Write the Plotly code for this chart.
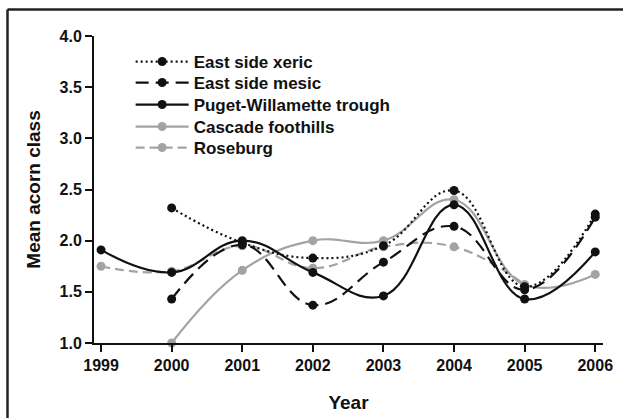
import plotly.graph_objects as go

years = [1999, 2000, 2001, 2002, 2003, 2004, 2005, 2006]

east_side_xeric = [None, 2.32, 1.98, 1.83, 1.95, 2.49, 1.55, 2.26]
east_side_mesic = [None, 1.43, 1.96, 1.37, 1.79, 2.14, 1.52, 2.23]
puget_willamette = [1.91, 1.69, 2.00, 1.69, 1.46, 2.35, 1.43, 1.89]
cascade_foothills = [None, 1.00, 1.71, 2.00, 2.00, 2.40, 1.57, 1.67]
roseburg = [1.75, 1.70, 1.95, 1.73, 1.94, 1.94, 1.57, None]

y_ticks = [1.0, 1.5, 2.0, 2.5, 3.0, 3.5, 4.0]

BLACK = "#111111"
GRAY = "#a3a3a3"
FONT = "Liberation Sans, Arial, sans-serif"

# plot area in pixels: left 94, right 603, top 36, bottom 343
PLOT_L, PLOT_W = 94, 509
PLOT_TOP, PLOT_H = 36, 307

series = [
    # name, values, colour, dash, legend id, legend row centre (px from top)
    ("Roseburg", roseburg, GRAY, "9px,5px", "legend5", 148),
    ("Cascade foothills", cascade_foothills, GRAY, "solid", "legend4", 127),
    ("Puget-Willamette trough", puget_willamette, BLACK, "solid", "legend3", 105),
    ("East side mesic", east_side_mesic, BLACK, "13px,7px", "legend2", 83),
    ("East side xeric", east_side_xeric, BLACK, "2px,3px", "legend", 62),
]

fig = go.Figure()
legends = {}
for name, vals, col, dash, leg, row in series:
    xs = [x for x, v in zip(years, vals) if v is not None]
    ys = [v for v in vals if v is not None]
    fig.add_trace(go.Scatter(
        x=xs, y=ys, name=name, mode="lines+markers",
        line=dict(color=col, width=2.2, dash=dash, shape="spline", smoothing=1.2),
        marker=dict(color=col, size=9),
        cliponaxis=False, legend=leg,
    ))
    legends[leg] = dict(
        x=0.072, y=(PLOT_TOP + PLOT_H - row) / PLOT_H, xanchor="left", yanchor="middle",
        font=dict(family=FONT, size=17, weight="bold", color=BLACK),
        bgcolor="rgba(0,0,0,0)", itemwidth=53,
    )

frame_left = (7.5 - PLOT_L) / PLOT_W
frame_top = (PLOT_TOP + PLOT_H - 9.5) / PLOT_H

fig.update_layout(
    width=623, height=418,
    margin=dict(l=94, r=20, t=36, b=75, autoexpand=False),
    paper_bgcolor="white", plot_bgcolor="white",
    font=dict(family=FONT, color=BLACK),
    showlegend=True,
    xaxis=dict(
        range=[1998.9, 2006.11], tickvals=years, ticktext=[str(y) for y in years],
        showline=True, linecolor=BLACK, linewidth=2, showgrid=False, zeroline=False,
        ticks="outside", ticklen=7, tickwidth=1.5, tickcolor=BLACK, automargin=False,
        tickfont=dict(family=FONT, size=16, weight="bold", color=BLACK),
        title=dict(text="Year", font=dict(family=FONT, size=19, weight="bold", color=BLACK), standoff=22),
    ),
    yaxis=dict(
        range=[1, 4], tickvals=y_ticks, tickformat=".1f",
        showline=True, linecolor=BLACK, linewidth=2, showgrid=False, zeroline=False,
        ticks="outside", ticklen=7, tickwidth=1.5, tickcolor=BLACK, automargin=False,
        tickfont=dict(family=FONT, size=16, weight="bold", color=BLACK),
        title=dict(text="Mean acorn class", font=dict(family=FONT, size=19, weight="bold", color=BLACK), standoff=14),
    ),
    shapes=[
        dict(type="line", xref="paper", yref="paper",
             x0=frame_left, x1=1.1, y0=frame_top, y1=frame_top,
             line=dict(color="#222222", width=2.5), layer="above"),
        dict(type="line", xref="paper", yref="paper",
             x0=frame_left, x1=frame_left, y0=frame_top, y1=-0.4,
             line=dict(color="#222222", width=2.5), layer="above"),
    ],
    **legends,
)

fig.write_html(
    "out.html",
    config={"displayModeBar": False},
    post_script="document.body.style.margin='0';document.body.style.overflow='hidden';",
)
